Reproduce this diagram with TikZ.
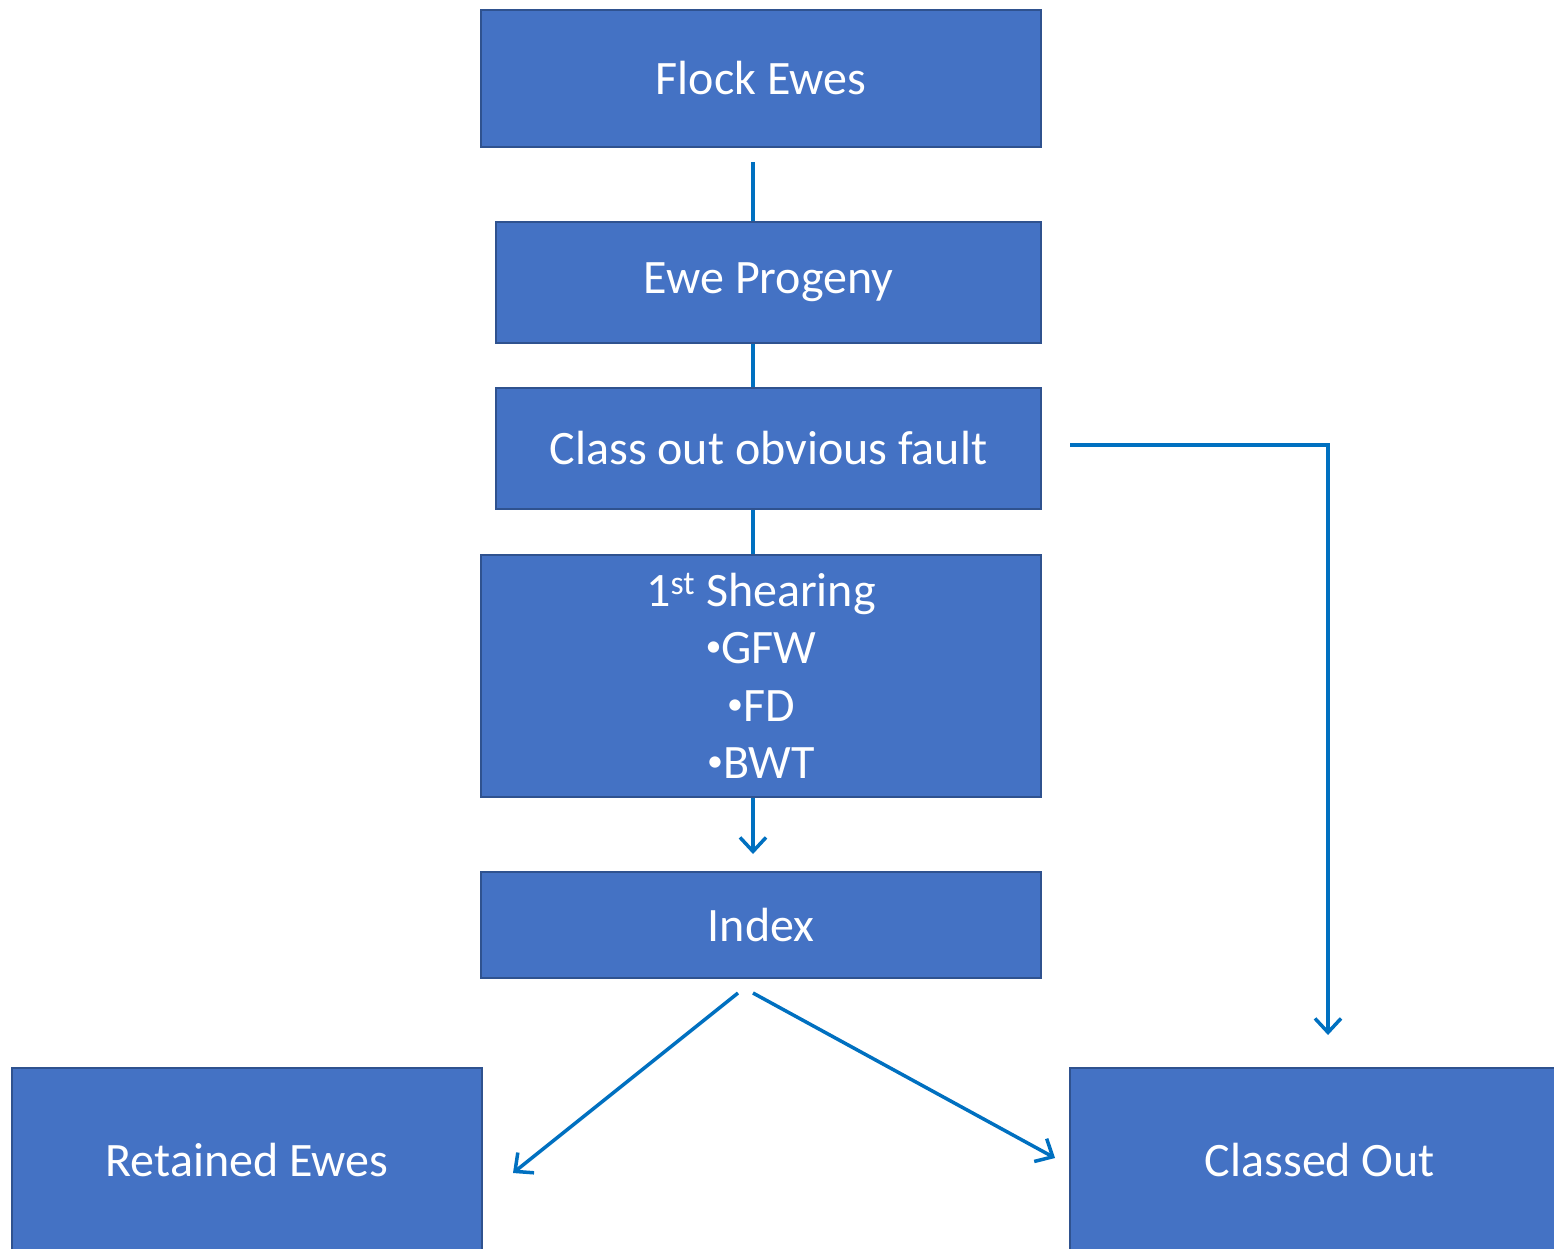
\documentclass[tikz,border=0pt]{standalone}
\usepackage{fontspec}
\setmainfont{Carlito}
\usetikzlibrary{arrows.meta,calc}
\definecolor{boxfill}{HTML}{4472C4}
\definecolor{boxline}{HTML}{2F528F}
\definecolor{flowline}{HTML}{0070C0}
\newcommand{\dotitem}{\raisebox{7pt}{\fontsize{32}{32}\selectfont•}}

\begin{document}
\begin{tikzpicture}[x=1pt, y=-1pt, >={Straight Barb[length=14pt,width=26pt,line width=3.5pt]}]
\tikzset{stage/.style={rectangle,fill=boxfill,draw=boxline,line width=2pt,text=white,
    font=\fontsize{48}{57.5}\selectfont,align=center,inner sep=0pt},
  flow/.style={draw=flowline,line width=3.5pt}}
\useasboundingbox (0,0) rectangle (1554,1248);
\node[stage, minimum width=560pt, minimum height=137pt] (flock)    at (761,78.5)  {Flock Ewes};
\node[stage, minimum width=545pt, minimum height=121pt] (progeny)  at (768.5,282.5) {Ewe Progeny};
\node[stage, minimum width=545pt, minimum height=121pt] (classout) at (768.5,448.5) {Class out obvious fault};
\node[stage, minimum width=560pt, minimum height=242pt] (shear)    at (761,676)   {1\textsuperscript{\raisebox{3pt}{st}} Shearing\\\dotitem GFW\\\dotitem FD\\\dotitem BWT};
\node[stage, minimum width=560pt, minimum height=106pt] (index)    at (761,925)   {Index};
\node[stage, minimum width=470pt, minimum height=184pt] (retained) at (247,1160)  {Retained Ewes};
\node[stage, minimum width=500pt, minimum height=184pt] (culled)   at (1320,1160) {Classed Out};
\coordinate (top)   at (753,162);
\coordinate (side)  at (1070,445);
\coordinate (sidee) at (1328,1035);
\coordinate (forkl) at (738,993);
\coordinate (forkr) at (753,993);
\coordinate (endl)  at (513,1173);
\coordinate (endr)  at (1055,1158);
\path[flow]
(top) -- (top |- progeny.north)
(top |- progeny.south) -- (top |- classout.north)
(top |- classout.south) -- (top |- shear.north);
\draw[flow,->] (top |- shear.south) -- ($(top |- index.north)+(0,-17)$);
\draw[flow,->] (side) -| (sidee);
\draw[flow,->] (forkl) -- (endl);
\draw[flow,->] (forkr) -- (endr);
\end{tikzpicture}
\end{document}
